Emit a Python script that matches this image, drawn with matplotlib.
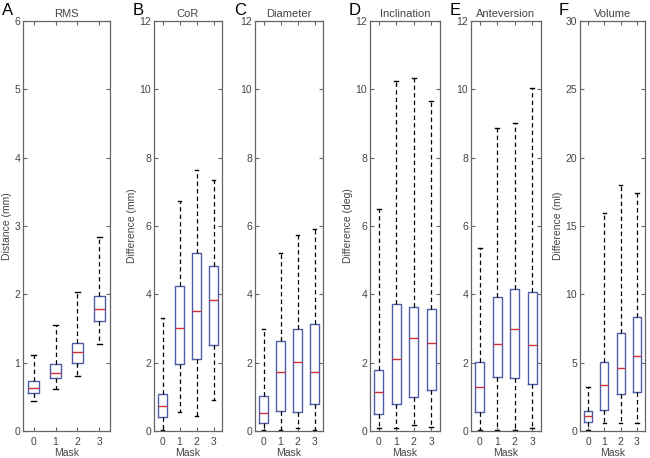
import matplotlib
matplotlib.use("Agg")
import matplotlib.pyplot as plt

plt.rcParams['font.family'] = ['Liberation Sans', 'DejaVu Sans']

masks = [0, 1, 2, 3]
mask_labels = ['0', '1', '2', '3']

titles = ['RMS', 'CoR', 'Diameter', 'Inclination', 'Anteversion', 'Volume']
letters = ['A', 'B', 'C', 'D', 'E', 'F']
ylabels = ['Distance (mm)', 'Difference (mm)', '', 'Difference (deg)', '', 'Difference (ml)']
ymax = [6, 12, 12, 12, 12, 30]
ystep = [1, 2, 2, 2, 2, 5]

# per panel: [whisker_low, Q1, median, Q3, whisker_high] for masks 0..3
rms = [[0.44, 0.55, 0.63, 0.73, 1.11],
       [0.61, 0.77, 0.85, 0.985, 1.55],
       [0.80, 1.00, 1.15, 1.29, 2.04],
       [1.27, 1.61, 1.79, 1.97, 2.84]]
cor = [[0.04, 0.42, 0.73, 1.07, 3.32],
       [0.56, 1.95, 3.02, 4.24, 6.72],
       [0.44, 2.12, 3.51, 5.22, 7.65],
       [0.90, 2.53, 3.83, 4.83, 7.36]]
diameter = [[0.03, 0.22, 0.54, 1.02, 3.00],
            [0.03, 0.59, 1.74, 2.62, 5.22],
            [0.08, 0.57, 2.02, 2.98, 5.73],
            [0.03, 0.78, 1.72, 3.14, 5.90]]
inclination = [[0.08, 0.49, 1.14, 1.78, 6.50],
               [0.10, 0.80, 2.12, 3.73, 10.25],
               [0.18, 1.00, 2.73, 3.62, 10.33],
               [0.13, 1.20, 2.59, 3.58, 9.66]]
anteversion = [[0.03, 0.56, 1.29, 2.02, 5.37],
               [0.03, 1.59, 2.56, 3.93, 8.87],
               [0.03, 1.54, 2.98, 4.16, 9.01],
               [0.08, 1.39, 2.52, 4.06, 10.03]]
volume = [[0.07, 0.68, 1.10, 1.46, 3.22],
          [0.61, 1.54, 3.34, 5.05, 15.96],
          [0.61, 2.68, 4.61, 7.15, 17.98],
          [0.56, 2.85, 5.49, 8.37, 17.42]]

panels = [rms, cor, diameter, inclination, anteversion, volume]

W, H = 650, 458
left_px = [23, 154, 255, 370, 471, 580]
right_px = [110, 222, 323, 440, 541, 645]
top_px, bot_px = 21, 431

fig = plt.figure(figsize=(W / 100, H / 100), dpi=100)

spine_c = '#666666'
text_c = '#444444'
box_c = '#4f5da6'
med_c = '#d0303a'

for i, data in enumerate(panels):
    ax = fig.add_axes([left_px[i] / W, 1 - bot_px / H,
                       (right_px[i] - left_px[i]) / W, (bot_px - top_px) / H])
    stats = []
    for d in data:
        stats.append(dict(whislo=d[0], q1=d[1], med=d[2], q3=d[3], whishi=d[4], fliers=[]))
    ax.bxp(stats, positions=masks, widths=0.5, showfliers=False,
           boxprops=dict(color=box_c, linewidth=1.0),
           medianprops=dict(color=med_c, linewidth=1.0),
           whiskerprops=dict(color='black', linestyle=(0, (3.5, 2.5)), linewidth=0.9),
           capprops=dict(color='black', linewidth=1.0),
           capwidths=0.22)
    ax.set_xlim(-0.5, 3.5)
    ax.set_ylim(0, ymax[i])
    ax.set_yticks(range(0, ymax[i] + 1, ystep[i]))
    ax.set_xticks(masks)
    ax.set_xticklabels(mask_labels)
    ax.tick_params(direction='in', top=True, right=True, length=3, width=0.8,
                   colors=spine_c, labelcolor=text_c, labelsize=7.5, pad=2)
    ax.tick_params(axis='x', pad=4)
    for s in ax.spines.values():
        s.set_color(spine_c)
        s.set_linewidth(0.9)
    ax.set_title(titles[i], fontsize=8, color=text_c, pad=3)
    ax.set_xlabel('Mask', fontsize=7.5, color=text_c, labelpad=1)
    if ylabels[i]:
        ax.set_ylabel(ylabels[i], fontsize=7.5, color=text_c, labelpad=2)
    fig.text((left_px[i] - 21) / W, 1 - 3 / H, letters[i], fontsize=12,
             ha='left', va='top', color='black')

fig.savefig('out.png', dpi=100)
